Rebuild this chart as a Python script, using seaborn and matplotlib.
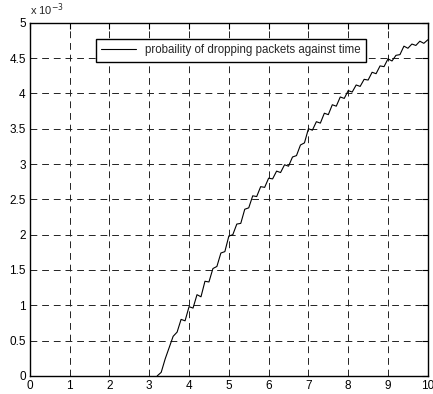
# probability of dropping packets against time - MATLAB style line plot

import numpy as np
import matplotlib
matplotlib.use('Agg')
import matplotlib.pyplot as plt
import seaborn as sns

# time axis (s) and probability values (x 1e-3)
time = [3.2, 3.3, 3.4, 3.5, 3.6, 3.7, 3.8, 3.9,
        4.0, 4.1, 4.2, 4.3, 4.4, 4.5, 4.6, 4.7, 4.8, 4.9,
        5.0, 5.1, 5.2, 5.3, 5.4, 5.5, 5.6, 5.7, 5.8, 5.9,
        6.0, 6.1, 6.2, 6.3, 6.4, 6.5, 6.6, 6.7, 6.8, 6.9,
        7.0, 7.1, 7.2, 7.3, 7.4, 7.5, 7.6, 7.7, 7.8, 7.9,
        8.0, 8.1, 8.2, 8.3, 8.4, 8.5, 8.6, 8.7, 8.8, 8.9,
        9.0, 9.1, 9.2, 9.3, 9.4, 9.5, 9.6, 9.7, 9.8, 9.9, 10.0]
prob_e3 = [0.00, 0.05, 0.24, 0.40, 0.56, 0.62, 0.80, 0.78,
           0.98, 0.96, 1.15, 1.12, 1.34, 1.33, 1.52, 1.55, 1.74, 1.76,
           1.98, 2.00, 2.15, 2.16, 2.36, 2.38, 2.55, 2.54, 2.68, 2.67,
           2.80, 2.79, 2.90, 2.88, 2.99, 2.97, 3.10, 3.12, 3.27, 3.30,
           3.50, 3.48, 3.60, 3.58, 3.72, 3.70, 3.84, 3.82, 3.95, 3.93,
           4.04, 4.02, 4.12, 4.10, 4.20, 4.19, 4.30, 4.28, 4.39, 4.38,
           4.49, 4.46, 4.54, 4.55, 4.67, 4.64, 4.70, 4.68, 4.74, 4.71, 4.76]

x_ticks = [0, 1, 2, 3, 4, 5, 6, 7, 8, 9, 10]
y_ticks = [0, 0.5, 1, 1.5, 2, 2.5, 3, 3.5, 4, 4.5, 5]
label = 'probaility of dropping packets against time'

sns.set_style('white')
plt.rcParams['font.family'] = ['Liberation Sans', 'DejaVu Sans']

fig = plt.figure(figsize=(4.33, 3.94), dpi=100)
ax = fig.add_axes([0.069, 0.046, 0.919, 0.896])

sns.lineplot(x=time, y=prob_e3, color='black', linewidth=0.8, label=label, ax=ax)

ax.set_xlim(0, 10)
ax.set_ylim(0, 5)
ax.set_xticks(x_ticks)
ax.set_yticks(y_ticks)
ax.set_xticklabels([str(t) for t in x_ticks])
ax.set_yticklabels(['%g' % t for t in y_ticks])
ax.tick_params(direction='in', length=4, width=0.8, labelsize=8.5,
               top=True, right=True, colors='black', pad=3)
ax.grid(True, color='#222222', linestyle=(0, (7, 5)), linewidth=0.7)
for s in ax.spines.values():
    s.set_color('black')
    s.set_linewidth(1.0)

ax.text(0.0, 1.015, r'x 10$^{-3}$', transform=ax.transAxes, fontsize=8,
        ha='left', va='bottom')

leg = ax.legend(loc='upper center', bbox_to_anchor=(0.505, 0.97), fontsize=8.3,
                frameon=True, fancybox=False, handlelength=3.0, borderpad=0.45,
                framealpha=1)
leg.get_frame().set_edgecolor('black')
leg.get_frame().set_linewidth(1.0)

plt.savefig('out.png', dpi=100)
